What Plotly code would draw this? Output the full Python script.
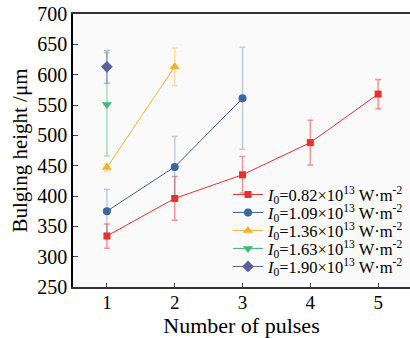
import plotly.graph_objects as go

pulses = [1, 2, 3, 4, 5]
labels = [
    "<i>I</i><sub>0</sub>=0.82×10<sup>13</sup> W·m<sup>-2</sup>",
    "<i>I</i><sub>0</sub>=1.09×10<sup>13</sup> W·m<sup>-2</sup>",
    "<i>I</i><sub>0</sub>=1.36×10<sup>13</sup> W·m<sup>-2</sup>",
    "<i>I</i><sub>0</sub>=1.63×10<sup>13</sup> W·m<sup>-2</sup>",
    "<i>I</i><sub>0</sub>=1.90×10<sup>13</sup> W·m<sup>-2</sup>",
]
h082 = [334, 396, 435, 488, 568]
e082 = [20, 36, 30, 37, 24]
h109 = [375, 448, 561]
e109 = [36, 50, 84]
h136 = [447, 613]
e136 = [6, 31]
h163 = [551]
e163 = [85]
h190 = [613]
e190 = [27]

series = [
    (h082, e082, "#e8302c", "rgba(232,48,44,0.5)", "square", 7),
    (h109, e109, "#3b64a0", "rgba(59,100,160,0.3)", "circle", 8),
    (h136, e136, "#f5b12c", "rgba(245,177,44,0.4)", "triangle-up", 9),
    (h163, e163, "#3dbb72", "rgba(61,187,114,0.45)", "triangle-down", 9),
    (h190, e190, "#5a5f9e", "rgba(90,95,158,0.45)", "diamond", 9),
]

font_family = "Liberation Serif"
fig = go.Figure()
legend_keys = ["legend", "legend2", "legend3", "legend4", "legend5"]
for i, ((h, e, col, ecol, sym, sz), name) in enumerate(zip(series, labels)):
    fig.add_trace(go.Scatter(
        x=pulses[:len(h)], y=h, name=name, mode="lines+markers",
        line=dict(color=col, width=1),
        marker=dict(color=col, symbol=sym, size=sz),
        error_y=dict(type="data", array=e, visible=True, color=ecol,
                     thickness=1.5, width=3),
        legend=legend_keys[i],
    ))

# legend rows (one legend per trace, to match row spacing)
plot_top, plot_bottom = 14, 287
row_px = [194.7, 212.7, 230.7, 248.7, 266.7]
leg_layout = {}
for key, ypx in zip(legend_keys, row_px):
    leg_layout[key] = dict(
        x=0.46, y=(plot_bottom - ypx) / (plot_bottom - plot_top),
        xanchor="left", yanchor="middle",
        bgcolor="rgba(0,0,0,0)", font=dict(size=16.5, family=font_family),
        itemwidth=30, tracegroupgap=0,
    )

fig.update_layout(
    width=410, height=338,
    margin=dict(l=73, r=0, t=14, b=51),
    paper_bgcolor="white", plot_bgcolor="#fafafa",
    font=dict(family=font_family, color="black"),
    showlegend=True,
    xaxis=dict(range=[0.5, 5.47], tickvals=pulses, ticks="inside", ticklen=4,
               showline=True, linecolor="#333", linewidth=1.5, mirror=True,
               showgrid=False, zeroline=False, automargin=True,
               ticklabelstandoff=-3,
               tickfont=dict(size=19), title=dict(text="Number of pulses", font=dict(size=22), standoff=3)),
    yaxis=dict(range=[250, 700], dtick=50, ticks="inside", ticklen=5,
               showline=True, linecolor="black", linewidth=1.5,
               showgrid=False, zeroline=False,
               tickfont=dict(size=20), title=dict(text="Bulging height /μm", font=dict(size=21), standoff=4)),
    **leg_layout,
)
fig.write_html("out.html", config={"displayModeBar": False},
               post_script="document.body.style.margin='0px';")
